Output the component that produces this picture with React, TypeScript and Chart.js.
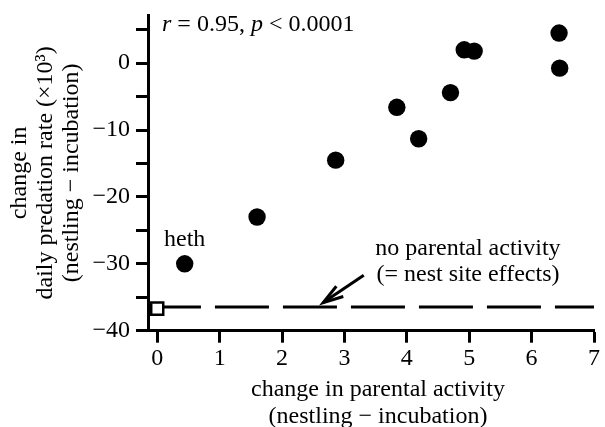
import { useEffect, useRef } from 'react';
import { Chart, registerables } from 'chart.js';

Chart.register(...registerables);

// ---- data ----
const parentalChange = [0.44, 1.6, 2.86, 3.84, 4.19, 4.7, 4.92, 5.08, 6.44, 6.45];
const predationChange = [-30.0, -23.0, -14.5, -6.6, -11.3, -4.4, 2.0, 1.8, 4.5, -0.75];
const nestSiteX = [0];
const nestSiteY = [-36.7];
const nestLineX = [0, 7];
const nestLineY = [-36.45, -36.45];
const xTickValues = [0, 1, 2, 3, 4, 5, 6, 7];
const yTickValues = [-40, -35, -30, -25, -20, -15, -10, -5, 0, 5];
const yLabelledTicks = [-40, -30, -20, -10, 0];

// annotation anchors (data coordinates)
const arrowTail = [3.31, -31.7];
const arrowTip = [2.66, -35.8];
const hethLabel = [0.44, -26.4];
const noteLines = ['no parental activity', '(= nest site effects)'];
const noteAnchor = [4.98, -27.8];
const noteLineGap = -3.8;

const FONT = '"Liberation Serif", "Times New Roman", serif';

const annotationPlugin = {
  id: 'annotations',
  afterDatasetsDraw(chart: any) {
    const { ctx, chartArea, scales } = chart;
    const xs = scales.x;
    const ys = scales.y;
    ctx.save();
    ctx.fillStyle = '#000';
    ctx.strokeStyle = '#000';

    // arrow
    const tx = xs.getPixelForValue(arrowTail[0]);
    const ty = ys.getPixelForValue(arrowTail[1]);
    const hx = xs.getPixelForValue(arrowTip[0]);
    const hy = ys.getPixelForValue(arrowTip[1]);
    ctx.lineWidth = 3;
    ctx.lineCap = 'butt';
    ctx.lineJoin = 'miter';
    ctx.beginPath();
    ctx.moveTo(tx, ty);
    ctx.lineTo(hx, hy);
    ctx.stroke();
    const ang = Math.atan2(ty - hy, tx - hx);
    const len = 21;
    const spread = 0.3;
    ctx.beginPath();
    ctx.moveTo(hx + len * Math.cos(ang + spread), hy + len * Math.sin(ang + spread));
    ctx.lineTo(hx, hy);
    ctx.lineTo(hx + len * Math.cos(ang - spread), hy + len * Math.sin(ang - spread));
    ctx.stroke();

    // text annotations
    ctx.font = `24px ${FONT}`;
    ctx.textAlign = 'center';
    ctx.textBaseline = 'middle';
    ctx.fillText('heth', xs.getPixelForValue(hethLabel[0]), ys.getPixelForValue(hethLabel[1]));
    noteLines.forEach((t, i) => {
      ctx.fillText(t, xs.getPixelForValue(noteAnchor[0]), ys.getPixelForValue(noteAnchor[1] + i * noteLineGap));
    });

    // stats text
    const parts: [string, boolean][] = [
      ['r', true],
      [' = 0.95, ', false],
      ['p', true],
      [' < 0.0001', false],
    ];
    ctx.textAlign = 'left';
    let x = chartArea.left + 14;
    const y = 25;
    parts.forEach(([t, it]) => {
      ctx.font = `${it ? 'italic ' : ''}24px ${FONT}`;
      ctx.fillText(t, x, y);
      x += ctx.measureText(t).width;
    });

    // axis titles
    ctx.font = `24px ${FONT}`;
    ctx.textAlign = 'center';
    ctx.fillText('change in parental activity', 378, 390);
    ctx.fillText('(nestling \u2212 incubation)', 378, 417);
    const cy = (chartArea.top + chartArea.bottom) / 2;
    const yTitle = ['change in', 'daily predation rate (\u00d710\u00b3)', '(nestling \u2212 incubation)'];
    ctx.translate(0, cy);
    ctx.rotate(-Math.PI / 2);
    yTitle.forEach((t, i) => {
      ctx.fillText(t, 0, 20 + i * 26);
    });
    ctx.restore();
  },
};

export default function App() {
  const ref = useRef<HTMLCanvasElement | null>(null);
  useEffect(() => {
    if (!ref.current) return;
    const chart = new Chart(ref.current, {
      type: 'scatter',
      data: {
        datasets: [
          {
            label: 'species',
            data: parentalChange.map((v, i) => ({ x: v, y: predationChange[i] })),
            pointRadius: 8.7,
            pointBorderWidth: 0,
            pointBackgroundColor: '#000',
            pointBorderColor: '#000',
            order: 1,
          },
          {
            label: 'nest site',
            data: nestSiteX.map((v, i) => ({ x: v, y: nestSiteY[i] })),
            pointStyle: 'rect',
            pointRadius: 8.5,
            pointBorderWidth: 2.5,
            pointBackgroundColor: '#fff',
            pointBorderColor: '#000',
            order: 2,
          },
          {
            type: 'line',
            label: 'no parental activity',
            data: nestLineX.map((v, i) => ({ x: v, y: nestLineY[i] })),
            borderColor: '#000',
            borderWidth: 3,
            borderDash: [54, 14],
            borderDashOffset: 10.3,
            pointRadius: 0,
            showLine: true,
            order: 3,
          } as any,
        ],
      },
      options: {
        responsive: false,
        animation: false,
        devicePixelRatio: 1,
        layout: { padding: { top: 15, right: 7.7, left: 0, bottom: 0 } },
        plugins: { legend: { display: false }, tooltip: { enabled: false } },
        scales: {
          x: {
            type: 'linear',
            min: -0.148,
            max: 7,
            afterBuildTicks: (s: any) => {
              s.ticks = xTickValues.map((v) => ({ value: v }));
            },
            afterFit: (s: any) => {
              s.height = 96.3;
              s.paddingLeft = 0;
              s.paddingRight = 0;
            },
            grid: {
              drawOnChartArea: false,
              drawTicks: true,
              tickLength: 12,
              tickWidth: 3,
              tickColor: '#000',
            },
            border: { display: true, color: '#000', width: 3 },
            ticks: {
              color: '#000',
              font: { family: FONT, size: 24 },
              padding: 2,
              maxRotation: 0,
              callback: (v: any) => String(v),
            },
          },
          y: {
            type: 'linear',
            min: -40,
            max: 7.2,
            afterBuildTicks: (s: any) => {
              s.ticks = yTickValues.map((v) => ({ value: v }));
            },
            afterFit: (s: any) => {
              s.width = 148;
              s.paddingTop = 0;
              s.paddingBottom = 0;
            },
            grid: {
              drawOnChartArea: false,
              drawTicks: true,
              tickLength: 12,
              tickWidth: 3,
              tickColor: '#000',
            },
            border: { display: true, color: '#000', width: 3 },
            ticks: {
              color: '#000',
              font: { family: FONT, size: 24 },
              padding: 6,
              callback: (v: any) =>
                yLabelledTicks.includes(Number(v)) ? (Number(v) < 0 ? '\u2212' + Math.abs(Number(v)) : String(v)) : '',
            },
          },
        },
      },
      plugins: [annotationPlugin],
    });
    return () => chart.destroy();
  }, []);
  return (
    <div style={{ position: 'fixed', left: 0, top: 0, width: 605, height: 427, background: '#fff' }}>
      <canvas ref={ref} width={605} height={427} style={{ width: 605, height: 427 }} />
    </div>
  );
}
